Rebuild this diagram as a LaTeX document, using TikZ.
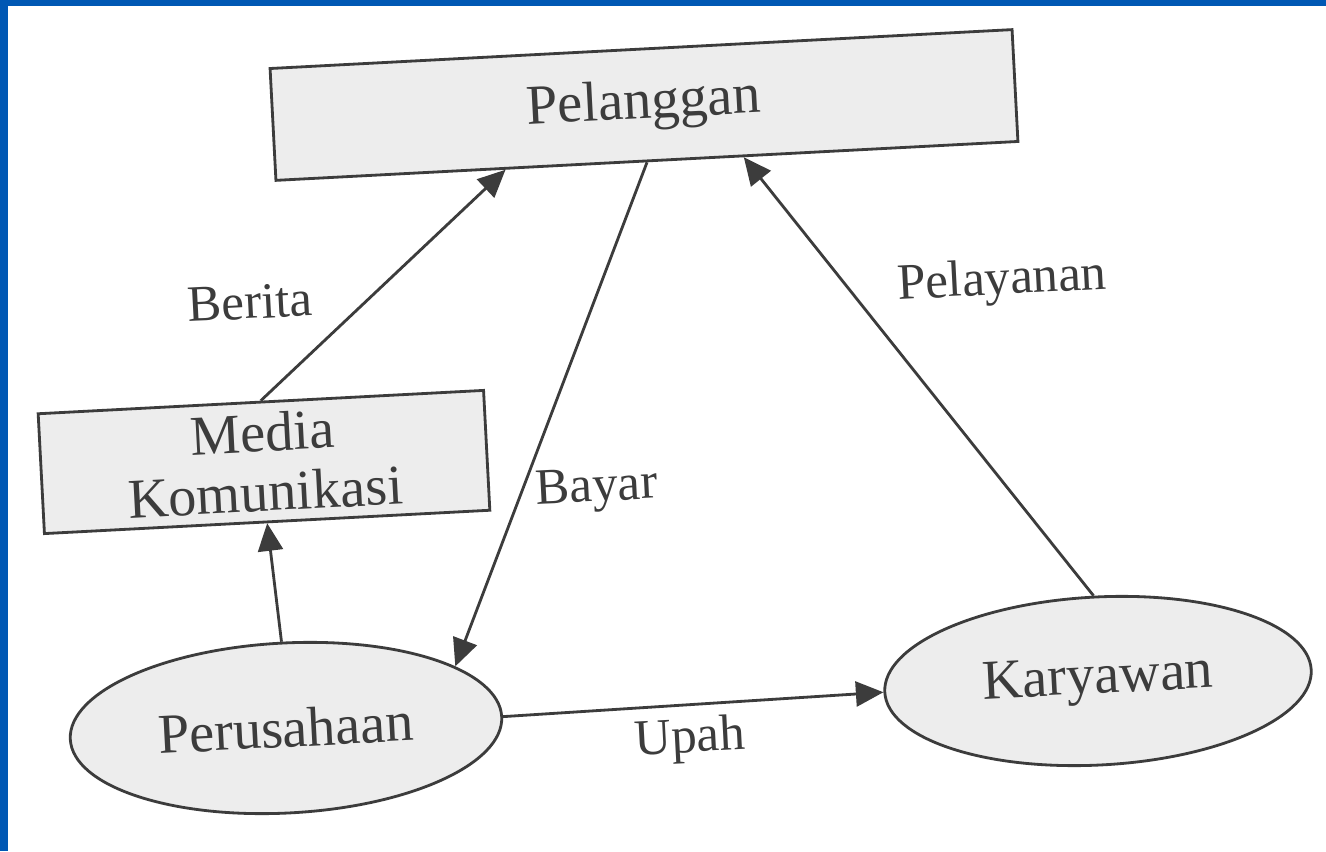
\documentclass[tikz,border=0pt]{standalone}
\usepackage{fontspec}
\setmainfont{Liberation Serif}
\usetikzlibrary{shapes.geometric,arrows.meta,calc}
\definecolor{slideblue}{HTML}{0058B4}
\definecolor{inkgray}{HTML}{3C3C3C}
\definecolor{boxgray}{HTML}{EDEDED}
\begin{document}
\begin{tikzpicture}[
box/.style={draw=inkgray, line width=1.6pt, fill=boxgray, rotate=3, inner sep=0pt, text=inkgray, font=\fontsize{32}{34}\selectfont, align=center},
oval/.style={box, ellipse},
lbl/.style={rotate=3, text=inkgray, font=\fontsize{29}{34}\selectfont},
arr/.style={draw=inkgray, line width=1.6pt, -{Triangle[length=5.5mm, width=5mm]}}]
\useasboundingbox (0,0) rectangle (26.52,17.02);
\fill[white] (0,0) rectangle (26.52,17.02);
\fill[slideblue] (0,0) rectangle (0.16,17.02);
\fill[slideblue] (0,16.9) rectangle (26.52,17.02);
\node [box, minimum width=14.86cm, minimum height=2.24cm] (pelanggan) at (12.88,14.92) {Pelanggan};
\node [box, minimum width=8.92cm, minimum height=2.4cm] (media) at (5.28,7.78) {Media\\Komunikasi};
\node [oval, minimum width=8.64cm, minimum height=3.4cm] (perusahaan) at (5.72,2.46) {Perusahaan};
\node [oval, minimum width=8.54cm, minimum height=3.36cm] (karyawan) at (21.96,3.40) {Karyawan};
\node [lbl] (berita) at (5.0,10.98) {Berita};
\node [lbl] (bayar) at (11.94,7.22) {Bayar};
\node [lbl] (pelayanan) at (20.04,11.38) {Pelayanan};
\node [lbl] (upah) at (13.8,2.22) {Upah};
\draw [arr] (media.north) -- ($(pelanggan.south west)!0.31!(pelanggan.south east)$);
\draw [arr] (perusahaan.north) -- (media.south);
\draw [arr] (pelanggan.south) -- (perusahaan.17);
\draw [arr] (karyawan.north) -- ($(pelanggan.south west)!0.63!(pelanggan.south east)$);
\draw [arr] (perusahaan.east) -- (karyawan.west);
\end{tikzpicture}
\end{document}
